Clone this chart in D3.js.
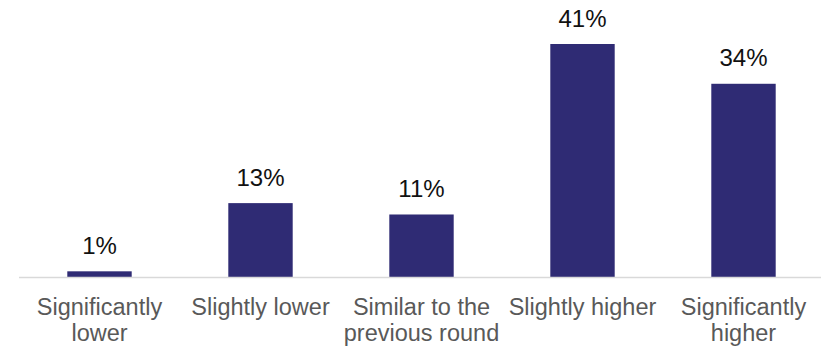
<!DOCTYPE html>
<html>
<head>
<meta charset="utf-8">
<script src="https://cdn.jsdelivr.net/npm/d3@7"></script>
<style>
  html, body { margin: 0; padding: 0; background: #fff; }
  svg { display: block; font-family: "Liberation Sans", Arial, sans-serif; }
</style>
</head>
<body>
<svg id="chart" width="821" height="348"></svg>
<script>
// Share of responses by comparison category
const categories = [
  ["Significantly", "lower"],
  ["Slightly lower"],
  ["Similar to the", "previous round"],
  ["Slightly higher"],
  ["Significantly", "higher"]
];
const values = [1, 13, 11, 41, 34];

const svg = d3.select("#chart");
const baseY = 277;

const x = d3.scaleBand()
  .domain(d3.range(categories.length))
  .range([19, 824])
  .paddingInner(0.6)
  .paddingOuter(0.3);

const y = d3.scaleLinear()
  .domain([0, 41])
  .range([baseY, 44]);

// Bars
svg.selectAll("rect.bar")
  .data(values)
  .join("rect")
  .attr("class", "bar")
  .attr("x", (d, i) => x(i))
  .attr("width", x.bandwidth())
  .attr("y", d => y(d))
  .attr("height", d => baseY - y(d))
  .attr("fill", "#2f2b74");

// Baseline
svg.append("line")
  .attr("x1", 19).attr("x2", 821)
  .attr("y1", baseY + 0.5).attr("y2", baseY + 0.5)
  .attr("stroke", "#d9d9d9")
  .attr("stroke-width", 1.5);

// Value labels
svg.selectAll("text.value")
  .data(values)
  .join("text")
  .attr("class", "value")
  .attr("x", (d, i) => x(i) + x.bandwidth() / 2)
  .attr("y", d => y(d) - 17.5)
  .attr("text-anchor", "middle")
  .attr("font-size", 24)
  .attr("fill", "#111")
  .text(d => d + "%");

// Category labels
const cat = svg.selectAll("text.cat")
  .data(categories)
  .join("text")
  .attr("class", "cat")
  .attr("text-anchor", "middle")
  .attr("font-size", 23.5)
  .attr("fill", "#595959");

cat.selectAll("tspan")
  .data((d, i) => d.map(line => ({ line, i })))
  .join("tspan")
  .attr("x", d => x(d.i) + x.bandwidth() / 2)
  .attr("y", (d, j) => baseY + 38 + j * 26)
  .text(d => d.line);
</script>
</body>
</html>
